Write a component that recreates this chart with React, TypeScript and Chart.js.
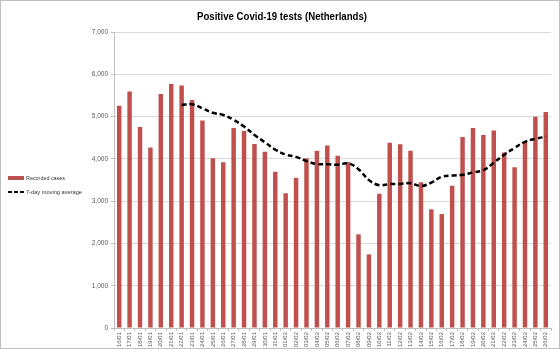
import React, { useEffect, useRef } from "react";
import { Chart, registerables } from "chart.js";

Chart.register(...registerables);

const TITLE = "Positive Covid-19 tests (Netherlands)";
const SERIES_BAR = "Recorded cases";
const SERIES_LINE = "7-day moving average";

const categories = [
  "16/01", "17/01", "18/01", "19/01", "20/01", "21/01", "22/01", "23/01", "24/01", "25/01",
  "26/01", "27/01", "28/01", "29/01", "30/01", "31/01", "01/02", "02/02", "03/02", "04/02",
  "05/02", "06/02", "07/02", "08/02", "09/02", "10/02", "11/02", "12/02", "13/02", "14/02",
  "15/02", "16/02", "17/02", "18/02", "19/02", "20/02", "21/02", "22/02", "23/02", "24/02",
  "25/02", "26/02",
];

const recordedCases = [
  5255, 5595, 4752, 4271, 5532, 5768, 5737, 5390, 4910, 4012,
  3917, 4728, 4657, 4350, 4168, 3695, 3184, 3553, 4012, 4192,
  4318, 4074, 3924, 2215, 1742, 3175, 4381, 4343, 4192, 3444,
  2806, 2695, 3365, 4515, 4728, 4563, 4673, 4153, 3799, 4397,
  4995, 5106,
];

const movingAverage: (number | null)[] = [
  null, null, null, null, null, null, 5273, 5292, 5194, 5089,
  5038, 4923, 4764, 4566, 4392, 4218, 4100, 4048, 3946, 3879,
  3875, 3861, 3894, 3755, 3497, 3377, 3404, 3408, 3425, 3356,
  3440, 3577, 3604, 3623, 3678, 3731, 3906, 4099, 4257, 4404,
  4473, 4527,
];

const yMin = 0;
const yMax = 7000;
const yStep = 1000;

const BAR_COLOR = "#c0504d";
const FONT = '"Liberation Sans", Arial, sans-serif';

const decorPlugin = {
  id: "decor",
  afterDraw(chart: any) {
    const ctx = chart.ctx as CanvasRenderingContext2D;
    ctx.save();
    // title
    ctx.fillStyle = "#000";
    ctx.font = `bold 10px ${FONT}`;
    ctx.textAlign = "center";
    ctx.textBaseline = "middle";
    ctx.fillText(TITLE, 281, 16, 170);
    // legend
    ctx.textAlign = "left";
    ctx.font = `6px ${FONT}`;
    ctx.fillStyle = BAR_COLOR;
    ctx.fillRect(7, 175, 16, 4);
    ctx.fillStyle = "#333";
    ctx.fillText(SERIES_BAR, 25, 177.5, 39);
    ctx.strokeStyle = "#000";
    ctx.lineWidth = 2;
    ctx.setLineDash([4, 2]);
    ctx.beginPath();
    ctx.moveTo(7, 191);
    ctx.lineTo(24, 191);
    ctx.stroke();
    ctx.setLineDash([]);
    ctx.fillText(SERIES_LINE, 25, 191, 56);
    ctx.restore();
  },
};

export default function App() {
  const ref = useRef<HTMLCanvasElement | null>(null);

  useEffect(() => {
    document.body.style.margin = "0";
    if (!ref.current) return;
    const chart = new Chart(ref.current, {
      type: "bar",
      data: {
        labels: categories,
        datasets: [
          {
            type: "line",
            label: SERIES_LINE,
            data: movingAverage,
            borderColor: "#000",
            borderWidth: 2.5,
            borderDash: [5, 3],
            pointRadius: 0,
            tension: 0.4,
            fill: false,
            order: 0,
          } as any,
          {
            type: "bar",
            label: SERIES_BAR,
            data: recordedCases,
            backgroundColor: BAR_COLOR,
            barPercentage: 0.43,
            categoryPercentage: 1,
            order: 1,
          },
        ],
      },
      options: {
        responsive: false,
        animation: false,
        devicePixelRatio: 1,
        layout: { padding: { left: 83, right: 8, top: 31, bottom: 0 } },
        plugins: {
          legend: { display: false },
          title: { display: false },
          tooltip: { enabled: false },
        },
        scales: {
          x: {
            offset: true,
            grid: {
              display: true,
              drawOnChartArea: false,
              drawTicks: true,
              tickLength: 3,
              color: "#bfbfbf",
              offset: true,
            },
            border: { color: "#bfbfbf" },
            ticks: {
              autoSkip: false,
              maxRotation: 90,
              minRotation: 90,
              padding: 1,
              color: "#595959",
              font: { size: 6, family: FONT },
            },
            afterFit: (s: any) => {
              s.height = 20;
            },
          },
          y: {
            min: yMin,
            max: yMax,
            grid: {
              color: "#d9d9d9",
              tickColor: "#bfbfbf",
              tickLength: 3,
            },
            border: { color: "#bfbfbf" },
            ticks: {
              stepSize: yStep,
              padding: 3,
              color: "#595959",
              font: { size: 6.5, family: FONT },
              callback: (v: any) => Number(v).toLocaleString("en-US"),
            },
            afterFit: (s: any) => {
              s.width = 30;
            },
          },
        },
      },
      plugins: [decorPlugin],
    });
    return () => chart.destroy();
  }, []);

  return (
    <div
      style={{
        width: 560,
        height: 349,
        boxSizing: "border-box",
        border: "1px solid #bfbfbf",
        background: "#fff",
      }}
    >
      <canvas ref={ref} width={558} height={347} style={{ display: "block" }} />
    </div>
  );
}
